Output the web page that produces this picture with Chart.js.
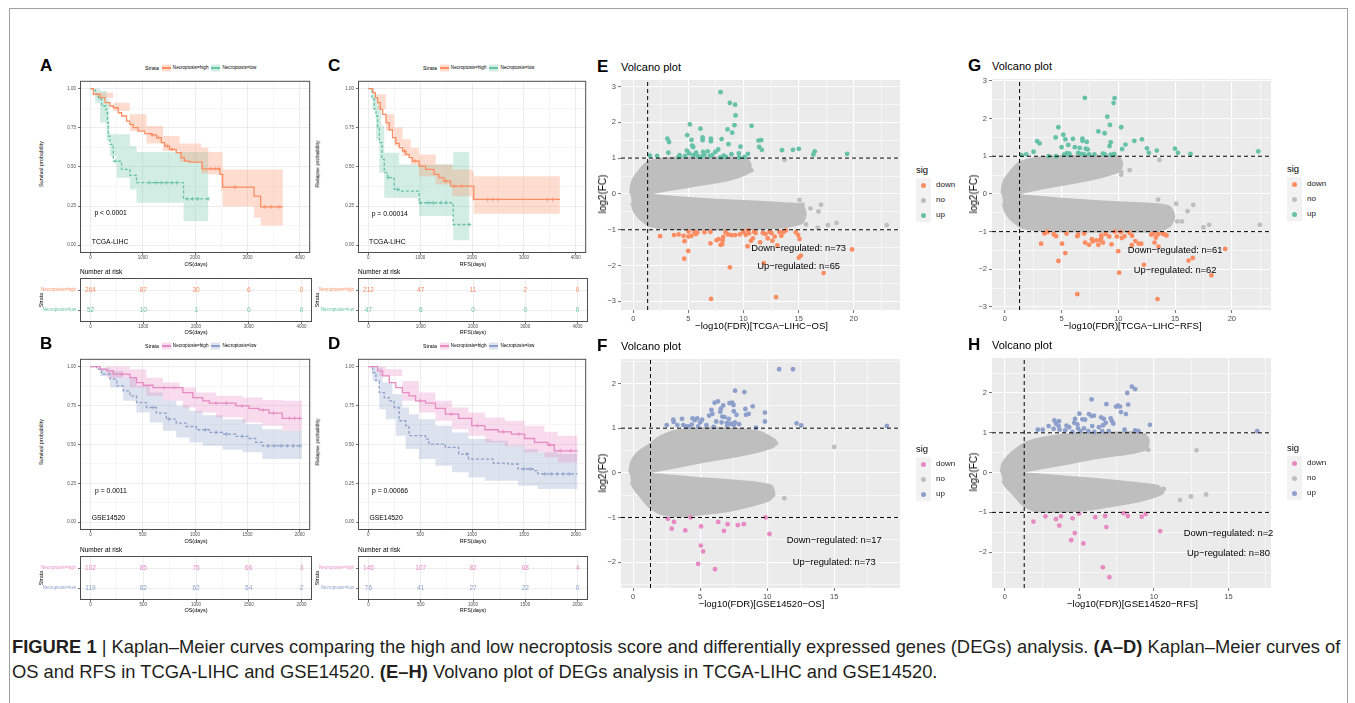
<!DOCTYPE html>
<html>
<head>
<meta charset="utf-8">
<script src="https://cdn.jsdelivr.net/npm/chart.js@4.4.1/dist/chart.umd.min.js"></script>
<style>
  body { margin: 0; width: 1355px; height: 703px; background: #fff; position: relative; overflow: hidden;
         font-family: "Liberation Sans", Arial, sans-serif; }
  .t { position: absolute; white-space: nowrap; line-height: 1; }
  canvas { position: absolute; }
  .frame { position: absolute; left: 9px; top: 8px; width: 1337px; height: 780px; border: 1px solid #a0a0a0; }
  .cap { position: absolute; left: 12px; white-space: nowrap; font-size: 19px; line-height: 1; color: #231f20; transform-origin: 0 50%; }
</style>
</head>
<body>
<div class="frame"></div>
<script>
// ---------- Kaplan-Meier data: [days, probability] ----------
const aHigh = [[0,1],[57,0.964],[184,0.942],[278,0.91],[373,0.889],[437,0.878],[532,0.846],[595,0.825],[690,0.793],[753,0.772],[817,0.751],[911,0.729],[1038,0.712],[1165,0.704],[1260,0.687],[1355,0.655],[1418,0.633],[1513,0.612],[1639,0.591],[1734,0.559],[1798,0.537],[1893,0.531],[2133,0.488],[2475,0.452],[2526,0.371],[3127,0.313],[3254,0.245],[3678,0.245]]
const aHighLo = [[0,1],[120,0.942],[437,0.857],[753,0.729],[1070,0.65],[1386,0.601],[1703,0.531],[2114,0.458],[2253,0.452],[2494,0.345],[2526,0.249],[3127,0.175],[3254,0.126],[3678,0.126]]
const aHighHi = [[0,1],[120,0.974],[437,0.91],[753,0.836],[1070,0.761],[1386,0.697],[1703,0.65],[2114,0.623],[2253,0.595],[2526,0.484],[3678,0.484]]
const aHighCens = [[1180,0.704],[1300,0.687],[1470,0.633],[1560,0.612],[2300,0.488],[2380,0.488],[2450,0.488],[2760,0.371],[3330,0.245],[3450,0.245],[3600,0.245]]
const aLow = [[0,1],[89,0.964],[152,0.932],[215,0.889],[297,0.846],[323,0.783],[342,0.697],[373,0.644],[437,0.537],[595,0.484],[753,0.446],[880,0.399],[1779,0.296],[2253,0.296]]
const aLowLo = [[0,1],[89,0.91],[184,0.783],[310,0.665],[373,0.569],[500,0.431],[753,0.356],[880,0.271],[1779,0.154],[2253,0.154]]
const aLowHi = [[0,1],[184,0.985],[310,0.932],[361,0.708],[753,0.633],[880,0.595],[2253,0.595]]
const aLowCens = [[480,0.537],[1130,0.399],[1250,0.399],[1350,0.399],[1450,0.399],[1550,0.399],[1650,0.399],[1850,0.296],[1950,0.296],[2050,0.296],[2250,0.296]]

const cHigh = [[0,1],[83,0.974],[134,0.942],[179,0.91],[230,0.868],[275,0.836],[339,0.783],[403,0.736],[466,0.687],[530,0.65],[594,0.623],[658,0.601],[722,0.58],[786,0.559],[850,0.537],[978,0.505],[1105,0.484],[1265,0.452],[1361,0.431],[1457,0.409],[1585,0.377],[2032,0.292],[3693,0.292]]
const cHighLo = [[0,1],[179,0.868],[339,0.729],[498,0.633],[658,0.569],[818,0.516],[978,0.441],[1297,0.388],[1617,0.313],[2000,0.281],[2032,0.2],[3693,0.2]]
const cHighHi = [[0,1],[179,0.964],[339,0.836],[498,0.751],[658,0.676],[818,0.623],[978,0.58],[1297,0.516],[1617,0.484],[2000,0.473],[2032,0.441],[3693,0.441]]
const cHighCens = [[700,0.601],[900,0.537],[1500,0.409],[1650,0.377],[1800,0.377],[2300,0.292],[2400,0.292],[2500,0.292],[3450,0.292],[3550,0.292]]
const cLow = [[0,1],[70,0.932],[115,0.868],[147,0.825],[179,0.751],[211,0.655],[262,0.548],[307,0.463],[371,0.431],[498,0.356],[594,0.345],[978,0.271],[1636,0.132],[1949,0.132]]
const cLowLo = [[0,1],[83,0.868],[147,0.676],[211,0.463],[307,0.303],[978,0.186],[1636,0.032],[1949,0.032]]
const cLowHi = [[0,1],[115,0.964],[179,0.889],[243,0.761],[307,0.591],[594,0.516],[1636,0.595],[1949,0.595]]
const cLowCens = [[380,0.431],[560,0.356],[1000,0.271],[1150,0.271],[1250,0.271],[1400,0.271],[1500,0.271],[1949,0.132]]

const bHigh = [[0,1],[92,0.983],[155,0.972],[218,0.951],[377,0.929],[440,0.897],[503,0.88],[598,0.865],[883,0.833],[978,0.801],[1073,0.78],[1136,0.765],[1389,0.748],[1516,0.731],[1611,0.722],[1706,0.701],[1833,0.667],[2022,0.667]]
const bHighLo = [[0,1],[155,0.929],[377,0.865],[535,0.812],[693,0.78],[883,0.737],[1010,0.705],[1200,0.673],[1453,0.641],[1643,0.62],[1833,0.588],[2022,0.566]]
const bHighHi = [[0,1],[377,0.983],[535,0.929],[693,0.897],[851,0.865],[1010,0.833],[1200,0.812],[1453,0.801],[1643,0.786],[1833,0.78],[2022,0.78]]
const bHighCens = [[300,0.951],[700,0.865],[800,0.865],[1200,0.765],[1300,0.765],[1450,0.748],[1650,0.722],[1750,0.701],[1900,0.667],[1950,0.667],[2000,0.667]]
const bLow = [[0,1],[60,0.983],[108,0.951],[187,0.919],[250,0.876],[313,0.844],[377,0.812],[440,0.769],[535,0.737],[630,0.701],[725,0.662],[820,0.637],[915,0.615],[1010,0.594],[1136,0.577],[1263,0.566],[1389,0.551],[1516,0.538],[1579,0.513],[1643,0.491],[2022,0.491]]
const bLowLo = [[0,1],[92,0.94],[187,0.865],[313,0.78],[440,0.705],[567,0.641],[693,0.588],[820,0.545],[946,0.513],[1073,0.491],[1263,0.466],[1453,0.449],[1643,0.406],[2022,0.395]]
const bLowHi = [[0,1],[92,0.994],[187,0.972],[313,0.929],[440,0.876],[567,0.833],[693,0.78],[820,0.748],[946,0.716],[1073,0.688],[1263,0.662],[1484,0.63],[1643,0.598],[1833,0.588],[2022,0.588]]
const bLowCens = [[600,0.737],[750,0.662],[1100,0.594],[1200,0.577],[1300,0.566],[1450,0.551],[1700,0.491],[1760,0.491],[1820,0.491],[1880,0.491],[1940,0.491],[2000,0.491]]

const dHigh = [[0,1],[89,0.972],[137,0.94],[201,0.897],[264,0.865],[328,0.833],[392,0.812],[455,0.78],[551,0.765],[647,0.731],[742,0.694],[870,0.667],[997,0.62],[1124,0.594],[1252,0.581],[1379,0.566],[1506,0.538],[1602,0.513],[1729,0.496],[1793,0.459],[2016,0.459]]
const dHighLo = [[0,1],[105,0.94],[328,0.78],[487,0.705],[647,0.652],[806,0.598],[965,0.556],[1124,0.513],[1315,0.487],[1506,0.449],[1698,0.417],[1825,0.385],[2016,0.374]]
const dHighHi = [[0,1],[169,0.983],[328,0.908],[487,0.833],[647,0.78],[806,0.737],[965,0.705],[1124,0.673],[1315,0.652],[1506,0.62],[1698,0.581],[1825,0.556],[2016,0.556]]
const dHighCens = [[500,0.78],[800,0.694],[1050,0.62],[1300,0.581],[1450,0.566],[1750,0.496],[1850,0.459],[1950,0.459]]
const dLow = [[0,1],[41,0.962],[73,0.908],[105,0.833],[153,0.801],[201,0.78],[248,0.737],[296,0.652],[360,0.62],[392,0.556],[551,0.534],[583,0.502],[742,0.481],[870,0.438],[965,0.406],[1204,0.38],[1347,0.374],[1443,0.342],[1602,0.331],[1634,0.31],[2016,0.31]]
const dLowLo = [[0,1],[41,0.908],[105,0.726],[169,0.662],[264,0.556],[360,0.47],[487,0.406],[647,0.363],[806,0.321],[965,0.288],[1124,0.267],[1443,0.235],[1634,0.214],[2016,0.203]]
const dLowHi = [[0,1],[73,0.994],[137,0.897],[232,0.823],[328,0.737],[392,0.694],[487,0.662],[647,0.62],[806,0.577],[965,0.534],[1188,0.524],[1347,0.491],[1506,0.47],[1634,0.449],[1825,0.438],[2016,0.438]]
const dLowCens = [[950,0.438],[1500,0.342],[1560,0.342],[1700,0.31],[1760,0.31],[1820,0.31],[1880,0.31],[1940,0.31]]

// number at risk
const riskTimesTcga = [0, 1000, 2000, 3000, 4000]
const riskTimesGse = [0, 500, 1000, 1500, 2000]
const riskAHigh = [264, 87, 30, 6, 0]
const riskALow = [52, 10, 1, 0, 0]
const riskCHigh = [212, 47, 11, 2, 0]
const riskCLow = [47, 6, 0, 0, 0]
const riskBHigh = [102, 85, 75, 66, 3]
const riskBLow = [119, 82, 62, 54, 2]
const riskDHigh = [145, 107, 82, 68, 4]
const riskDLow = [76, 41, 27, 22, 0]

const tcgaDayTicks = [0, 1000, 2000, 3000, 4000]
const tcgaDayMinor = [500, 1500, 2500, 3500]
const gseDayTicks = [0, 500, 1000, 1500, 2000]
const gseDayMinor = [250, 750, 1250, 1750]
const probTicks = [0, 0.25, 0.5, 0.75, 1]
const probMinor = [0.125, 0.375, 0.625, 0.875]

// ---------- Volcano data: [-log10(FDR), log2(FC)] ----------
const fdrCut = 1.3
const fcCut = 1

const eUp = [[7.92,2.84],[8.76,2.54],[9.24,2.49],[9.27,2.19],[9.18,1.92],[8.97,1.71],[8.55,1.8],[10.73,1.9],[5.13,1.94],[6.09,1.82],[4.89,1.64],[5.28,1.51],[6.29,1.58],[6.29,1.5],[7.04,1.54],[7.04,1.47],[8.01,1.53],[3.09,1.54],[3.24,1.45],[3.18,1.15],[5.34,1.35],[5.43,1.31],[8.64,1.39],[9.72,1.32],[11.36,1.49],[11.6,1.5],[11.42,1.31],[11.66,1.23],[13.49,1.22],[14.48,1.23],[15.02,1.26],[16.46,1.19],[16.34,1.1],[19.4,1.12],[1.5,1.07],[2.16,1.06],[4.2,1.08],[4.11,1.03],[4.86,1.21],[5.07,1.13],[5.46,1.08],[5.7,1.15],[5.9,1.05],[6.33,1.17],[6.45,1.09],[6.75,1.19],[6.96,1.06],[7.44,1.17],[7.7,1.24],[7.89,1.02],[8.2,1.07],[8.9,1.11],[9.57,1.13],[10.1,1.03],[10.4,1.12],[9.6,1.02],[7.17,1.09],[6.15,1.03],[4.7,1.06],[8.4,1.03]]
const eDown = [[2.43,-1.18],[3.69,-1.15],[4.11,-1.13],[4.56,-1.17],[5.0,-1.05],[4.65,-1.32],[5.0,-1.19],[4.98,-1.59],[4.62,-1.81],[5.55,-1.07],[5.67,-1.12],[5.81,-1.08],[6.45,-1.07],[7.0,-1.06],[7.0,-1.38],[7.56,-1.29],[7.74,-1.26],[7.92,-1.42],[8.07,-1.4],[8.1,-1.29],[8.16,-1.2],[8.37,-1.07],[8.6,-1.13],[8.9,-1.15],[9.24,-1.15],[9.66,-1.13],[9.96,-1.06],[10.2,-1.14],[10.4,-1.02],[10.5,-1.1],[10.68,-1.31],[10.85,-1.24],[10.97,-1.06],[11.1,-1.09],[10.37,-1.46],[11.5,-1.35],[11.75,-1.09],[12.0,-1.12],[12.35,-1.06],[12.54,-1.09],[12.62,-1.31],[12.83,-1.19],[13.07,-1.44],[13.25,-1.06],[13.43,-1.17],[13.6,-1.07],[13.85,-1.02],[14.75,-1.07],[14.96,-1.15],[15.08,-1.26],[15.2,-1.72],[15.02,-1.78],[11.84,-1.93],[8.76,-2.05],[17.27,-2.21],[19.85,-1.55],[7.05,-2.93],[12.95,-2.88],[12.2,-1.24],[5.28,-1.17]]
const eNo = [[13.73,0.95],[10.7,0.66],[23.0,-0.87],[18.44,-0.81],[17.66,-0.87],[16.73,-0.94],[17.03,-0.3],[16.8,-0.49],[16.07,-0.41],[15.68,-0.85],[15.08,-0.17],[15.35,-0.3]]
// outline of the dense grey "no" cloud (upper and lower lobes), traced round the edge
const eCloudUpX = [-0.25, -0.15, 0.1, 0.5, 1.0, 1.5, 2.5, 4, 6, 8, 10.2, 10.6, 10.5, 9.5, 8, 6, 4, 2.5, 1.5, 0.8]
const eCloudUpY = [0, 0.25, 0.45, 0.62, 0.8, 0.9, 0.97, 1.0, 1.0, 1.0, 0.99, 0.82, 0.62, 0.48, 0.36, 0.26, 0.16, 0.08, 0.03, 0]
const eCloudLoX = [-0.25, 0.8, 1.5, 3, 6, 9, 12, 14, 15.3, 15.6, 15.3, 14, 12, 9, 6, 3, 1.5, 1.0, 0.5, 0.1, -0.15]
const eCloudLoY = [0, -0.01, -0.04, -0.08, -0.15, -0.2, -0.24, -0.28, -0.32, -0.55, -0.8, -0.9, -0.95, -0.98, -0.98, -0.96, -0.88, -0.78, -0.65, -0.48, -0.25]

const gUp = [[7.05,2.55],[9.67,2.54],[9.58,2.41],[9.03,2.05],[9.26,1.83],[10.25,1.77],[8.24,1.66],[8.79,1.61],[4.72,1.77],[5.15,1.57],[4.48,1.5],[5.33,1.45],[6.0,1.46],[6.84,1.47],[6.84,1.41],[7.22,1.38],[9.33,1.37],[9.23,1.27],[10.63,1.31],[11.41,1.41],[12.08,1.45],[2.85,1.4],[3.06,1.34],[2.53,1.12],[5.59,1.3],[5.0,1.24],[6.17,1.24],[6.6,1.22],[7.13,1.2],[7.3,1.18],[10.33,1.19],[12.52,1.21],[12.69,1.09],[13.39,1.15],[14.99,1.2],[15.25,1.09],[16.36,1.06],[22.33,1.13],[1.46,1.03],[1.89,1.05],[3.87,1.0],[4.51,1.0],[5.21,1.04],[5.47,1.08],[5.68,1.07],[6.46,1.09],[6.78,1.06],[6.99,1.05],[7.42,1.05],[7.89,1.05],[8.65,1.07],[8.79,1.05],[9.32,1.04],[9.64,1.06],[5.68,1.03]]
const gDown = [[3.2,-1.32],[3.49,-1.05],[3.78,-1.01],[4.31,-1.07],[4.51,-1.12],[4.72,-1.78],[5.04,-1.32],[5.33,-1.57],[5.44,-1.05],[6.38,-1.12],[6.46,-1.08],[6.99,-1.05],[7.07,-1.29],[7.42,-1.35],[7.66,-1.2],[7.74,-1.26],[8.06,-1.23],[8.24,-1.35],[8.38,-1.23],[8.5,-1.1],[8.65,-1.29],[8.5,-1.17],[8.88,-1.06],[9.2,-1.13],[9.4,-1.34],[9.67,-1.0],[9.87,-1.13],[9.99,-1.52],[10.07,-2.09],[10.22,-1.01],[10.31,-1.17],[10.54,-1.12],[10.98,-1.03],[11.21,-1.11],[11.5,-1.25],[11.79,-1.32],[12.02,-1.32],[12.26,-1.88],[12.9,-1.08],[13.1,-1.05],[13.3,-1.16],[13.5,-1.07],[13.19,-1.29],[13.54,-1.4],[13.89,-1.05],[14.06,-1.07],[14.24,-1.1],[16.19,-1.77],[16.56,-1.7],[18.2,-2.16],[19.42,-1.46],[6.38,-2.66],[13.45,-2.79],[11.18,-1.36]]
const gNo = [[13.62,0.9],[10.25,0.58],[10.25,0.51],[11.0,0.63],[22.45,-0.82],[18.0,-0.82],[17.5,-0.89],[16.6,-0.29],[16.1,-0.46],[15.1,-0.26],[13.5,-0.15],[15.2,-0.73],[15.6,-0.73],[14.2,-0.75]]
const gCloudUpX = [-0.25, -0.15, 0.1, 0.5, 1.0, 1.5, 2.5, 4, 6, 8.5, 10.0, 10.3, 10.1, 9, 8, 6.5, 5, 3.5, 2, 0.8]
const gCloudUpY = [0, 0.25, 0.42, 0.58, 0.75, 0.85, 0.93, 0.98, 1.0, 1.0, 0.98, 0.8, 0.62, 0.5, 0.42, 0.33, 0.25, 0.17, 0.08, 0]
const gCloudLoX = [-0.25, 1, 3, 5, 7, 9, 11, 13, 14.5, 14.9, 14.5, 13.5, 11, 8, 5, 3, 1.5, 1.0, 0.5, 0.1, -0.15]
const gCloudLoY = [0, -0.04, -0.09, -0.14, -0.18, -0.22, -0.25, -0.28, -0.35, -0.6, -0.85, -0.97, -0.99, -0.99, -0.98, -0.96, -0.88, -0.78, -0.65, -0.48, -0.25]

const fUp = [[10.89,2.32],[11.92,2.32],[7.61,1.84],[8.3,1.81],[6.08,1.57],[6.33,1.6],[7.19,1.56],[7.39,1.57],[7.49,1.52],[6.72,1.51],[8.92,1.49],[9.83,1.35],[9.83,1.15],[8.37,1.43],[8.62,1.32],[8.42,1.3],[5.67,1.28],[5.84,1.41],[6.55,1.44],[6.5,1.37],[6.65,1.26],[6.82,1.25],[7.14,1.21],[7.51,1.38],[7.71,1.3],[3.0,1.19],[3.03,1.14],[3.65,1.21],[4.43,1.22],[4.6,1.18],[4.78,1.22],[5.15,1.19],[5.0,1.13],[6.2,1.15],[6.6,1.13],[7.0,1.12],[7.3,1.1],[7.59,1.13],[7.9,1.09],[2.51,1.07],[3.3,1.07],[3.74,1.07],[3.94,1.04],[4.14,1.04],[4.38,1.08],[4.85,1.04],[5.47,1.07],[6.01,1.03],[7.02,1.06],[7.51,1.07],[9.16,1.01],[12.19,1.11],[12.54,1.06],[18.92,1.05],[5.91,1.32]]
const fDown = [[2.59,-1.03],[2.88,-1.25],[3.05,-1.1],[3.89,-1.29],[4.29,-1.0],[5.07,-1.2],[5.05,-1.63],[5.22,-1.76],[4.85,-2.04],[6.11,-2.16],[6.35,-1.1],[6.77,-1.3],[7.05,-1.15],[7.81,-1.17],[8.25,-1.15],[9.88,-1.0],[10.17,-1.37]]
const fNo = [[15.0,0.58],[10.64,0.66],[11.28,-0.57],[10.17,-0.51],[9.04,-0.4]]
const fCloudUpX = [-0.25, -0.15, 0.1, 0.5, 1.2, 2, 3, 4.5, 6, 8, 9.5, 10.6, 10.5, 9.5, 8, 6.5, 5, 3.5, 2, 0.8]
const fCloudUpY = [0, 0.2, 0.35, 0.48, 0.62, 0.8, 0.92, 0.98, 1.0, 0.97, 0.9, 0.72, 0.6, 0.5, 0.4, 0.32, 0.24, 0.15, 0.07, 0]
const fCloudLoX = [-0.25, 1, 2, 3.5, 5, 7, 9, 10.3, 10.5, 10, 8.5, 7, 5, 3.5, 2, 1.2, 0.5, 0.1, -0.15]
const fCloudLoY = [0, -0.03, -0.05, -0.09, -0.13, -0.17, -0.22, -0.3, -0.5, -0.62, -0.75, -0.85, -0.92, -0.97, -0.9, -0.75, -0.5, -0.35, -0.2]

const hUp = [[8.52,2.16],[8.74,2.1],[8.21,2.0],[5.82,1.84],[6.81,1.72],[8.27,1.71],[7.46,1.66],[7.59,1.68],[7.72,1.66],[7.79,1.52],[8.12,1.47],[5.0,1.48],[5.64,1.47],[5.82,1.42],[5.97,1.43],[6.46,1.39],[6.64,1.35],[7.1,1.36],[7.19,1.29],[4.71,1.35],[5.2,1.34],[5.38,1.33],[3.32,1.31],[3.43,1.23],[3.63,1.29],[4.65,1.25],[4.87,1.21],[9.73,1.2],[6.59,1.19],[6.77,1.25],[7.28,1.23],[2.94,1.17],[3.61,1.17],[4.14,1.18],[4.31,1.14],[4.91,1.11],[5.31,1.11],[5.86,1.17],[6.31,1.14],[2.21,1.08],[2.54,1.08],[3.27,1.1],[3.67,1.08],[4.05,1.06],[4.54,1.02],[5.07,1.04],[5.6,1.04],[6.0,1.02],[6.53,1.04],[6.97,1.04],[8.03,1.08],[8.74,1.06],[8.96,1.04],[16.92,1.04]]
const hDown = [[1.92,-1.23],[2.72,-1.1],[3.43,-1.17],[3.65,-1.33],[3.76,-1.1],[4.54,-1.15],[4.69,-1.52],[4.45,-1.7],[5.27,-1.78],[4.98,-1.03],[6.06,-1.12],[6.73,-1.09],[6.81,-1.37],[6.57,-2.38],[7.01,-2.63],[7.96,-1.02],[8.25,-1.09],[9.18,-1.11],[9.45,-1.04],[10.42,-1.47]]
const hNo = [[12.85,0.56],[11.75,-0.69],[12.48,-0.6],[13.5,-0.55],[9.62,0.57],[9.36,0.94],[10.66,-0.41],[10.24,-0.49]]
const hCloudUpX = [-0.25, -0.15, 0.1, 0.5, 1.2, 2, 3.5, 5, 7, 9, 9.6, 9.5, 8.5, 7, 5.5, 4, 2.5, 1.2, 0.5]
const hCloudUpY = [0, 0.2, 0.35, 0.5, 0.7, 0.82, 0.92, 0.97, 0.99, 1.0, 0.85, 0.6, 0.5, 0.42, 0.33, 0.22, 0.12, 0.04, 0]
const hCloudLoX = [-0.25, 1, 2, 4, 6, 8, 9.5, 10.3, 10.6, 9.5, 8, 6, 4, 2, 1.2, 0.5, 0.1, -0.15]
const hCloudLoY = [0, -0.03, -0.05, -0.11, -0.17, -0.24, -0.3, -0.35, -0.5, -0.66, -0.78, -0.9, -0.97, -0.95, -0.8, -0.5, -0.35, -0.2]

const volcanoX20 = [0, 5, 10, 15, 20]
const volcanoX20Minor = [2.5, 7.5, 12.5, 17.5, 22.5]
const volcanoX15 = [0, 5, 10, 15]
const volcanoX15Minor = [2.5, 7.5, 12.5, 17.5]
const fc3 = [-3, -2, -1, 0, 1, 2, 3]
const fc3Minor = [-2.5, -1.5, -0.5, 0.5, 1.5, 2.5]
const fc2 = [-2, -1, 0, 1, 2]
const fc2Minor = [-2.5, -1.5, -0.5, 0.5, 1.5, 2.5]

// ---------- colours / helpers ----------
const FONT = '"Liberation Sans", Arial, sans-serif'
const ORANGE = '#FC8D62', GREEN = '#66C2A5', PINK = '#E78AC3', BLUE = '#8DA0CB', GREY = '#BEBEBE'
const alpha = (hex, a) => {
  const n = parseInt(hex.slice(1), 16)
  return `rgba(${n >> 16},${(n >> 8) & 255},${n & 255},${a})`
}
const pts = a => a.map(([x, y]) => ({ x, y }))
const outline = (xs, ys) => xs.map((x, i) => ({ x, y: ys[i] }))
const minus = v => (v < 0 ? '\u2212' : '') + Math.abs(v)

function txt(s, x, y, o = {}) {
  const d = document.createElement('div')
  d.className = 't'
  if (o.html) d.innerHTML = s; else d.textContent = s
  d.style.left = x + 'px'
  d.style.top = y + 'px'
  d.style.fontSize = (o.size || 8) + 'px'
  d.style.color = o.color || '#000'
  if (o.bold) d.style.fontWeight = 'bold'
  const ax = o.align === 'c' ? -50 : o.align === 'r' ? -100 : 0
  d.style.transform = `translate(${ax}%,-50%)` + (o.rot ? ` rotate(${o.rot}deg)` : '')
  document.body.appendChild(d)
  return d
}

function plotCanvas(area, m) {
  const c = document.createElement('canvas')
  const w = area.w + m.l + m.r, h = area.h + m.t + m.b
  c.width = w; c.height = h
  c.style.left = (area.x - m.l) + 'px'
  c.style.top = (area.y - m.t) + 'px'
  c.style.width = w + 'px'; c.style.height = h + 'px'
  document.body.appendChild(c)
  return c
}

const panelBg = {
  id: 'panelBg',
  beforeDraw(c, a, o) {
    if (!o.color) return
    const { ctx, chartArea: ca } = c
    ctx.save(); ctx.fillStyle = o.color
    ctx.fillRect(ca.left, ca.top, ca.width, ca.height); ctx.restore()
  }
}
const panelBorder = {
  id: 'panelBorder',
  afterDraw(c, a, o) {
    if (!o.color) return
    const { ctx, chartArea: ca } = c
    ctx.save(); ctx.strokeStyle = o.color; ctx.lineWidth = 1
    ctx.strokeRect(ca.left + 0.5, ca.top + 0.5, ca.width - 1, ca.height - 1); ctx.restore()
  }
}
const notes = {
  id: 'notes',
  afterDatasetsDraw(c, a, o) {
    if (!o.items) return
    const ctx = c.ctx
    ctx.save()
    o.items.forEach(n => {
      ctx.font = `${n.size}px ${FONT}`
      ctx.fillStyle = n.color || '#000'
      ctx.textAlign = n.align || 'left'
      ctx.textBaseline = 'middle'
      ctx.fillText(n.text, c.scales.x.getPixelForValue(n.x), c.scales.y.getPixelForValue(n.y))
    })
    ctx.restore()
  }
}
Chart.register(panelBg, panelBorder, notes)

function axis(min, max, majors, minors, fmt, o) {
  const all = majors.concat(minors).sort((a, b) => a - b)
  const isMajor = v => majors.some(m => Math.abs(m - v) < 1e-9)
  return {
    type: 'linear', min, max, bounds: 'data',
    afterBuildTicks: s => { s.ticks = all.map(v => ({ value: v })) },
    afterFit: o.fit,
    ticks: {
      autoSkip: false, maxRotation: 0, padding: o.pad,
      font: { family: FONT, size: o.size },
      color: o.tickColor || '#4D4D4D',
      callback: v => isMajor(v) ? fmt(v) : ''
    },
    grid: {
      color: o.grid,
      lineWidth: c => isMajor(c.tick.value) ? o.majorW : o.minorW,
      tickLength: o.tickLen || 3, tickWidth: 0.7,
      tickColor: c => isMajor(c.tick.value) ? '#333' : 'rgba(0,0,0,0)'
    },
    border: { display: false }
  }
}
const fitX = h => s => { s.height = h; s.paddingLeft = 0; s.paddingRight = 0 }
const fitY = w => s => { s.width = w; s.paddingTop = 0; s.paddingBottom = 0 }

const baseOptions = m => ({
  responsive: false, animation: false, devicePixelRatio: 1, events: [],
  layout: { padding: { left: 0, top: m.t, right: m.r, bottom: 0 } },
  plugins: { legend: { display: false }, tooltip: { enabled: false } }
})

// ---------- Kaplan-Meier panel ----------
function kmPanel(p) {
  const m = { l: 22, r: 3, t: 3, b: 9 }
  const cv = plotCanvas(p.area, m)
  const ds = []
  p.series.forEach(s => ds.push({ data: pts(s.cens), showLine: false, pointStyle: 'cross', pointRadius: 2,
    pointBorderColor: s.color, pointBorderWidth: 0.8 }))
  p.series.forEach(s => ds.push({ data: pts(s.curve), borderColor: s.color, borderWidth: 1.3,
    borderDash: s.dash || [], stepped: true, pointRadius: 0, fill: false }))
  p.series.forEach(s => {
    ds.push({ data: pts(s.lo), borderColor: 'rgba(0,0,0,0)', borderWidth: 0, stepped: true, pointRadius: 0, fill: false })
    ds.push({ data: pts(s.hi), borderColor: 'rgba(0,0,0,0)', borderWidth: 0, stepped: true, pointRadius: 0,
      fill: '-1', backgroundColor: alpha(s.color, 0.3) })
  })
  const opt = baseOptions(m)
  opt.plugins.panelBorder = { color: '#4d4d4d' }
  opt.plugins.notes = { items: p.notes.map(n => ({ text: n[0], x: n[1], y: n[2], size: 6.8 })) }
  const sty = { size: 4.5, grid: '#EBEBEB', majorW: 0.9, minorW: 0.45, pad: 0, tickLen: 2 }
  opt.scales = {
    x: axis(p.xr[0], p.xr[1], p.xMaj, p.xMin, v => String(v), { ...sty, fit: fitX(m.b) }),
    y: axis(-0.05, 1.05, probTicks, probMinor, v => v.toFixed(2), { ...sty, pad: 2, fit: fitY(m.l) })
  }
  new Chart(cv, { type: 'line', data: { datasets: ds }, options: opt })
}

function riskPanel(p) {
  const m = { l: 40, r: 3, t: 3, b: 8 }
  const cv = plotCanvas(p.area, m)
  const rowHigh = 2, rowLow = 1
  const ds = [
    { data: p.times.map(t => ({ x: t, y: rowHigh })), showLine: false, pointRadius: 0 },
    { data: p.times.map(t => ({ x: t, y: rowLow })), showLine: false, pointRadius: 0 }
  ]
  const items = []
  p.times.forEach((t, i) => {
    items.push({ text: String(p.high[i]), x: t, y: rowHigh, size: 6.5, color: p.colors[0], align: 'center' })
    items.push({ text: String(p.low[i]), x: t, y: rowLow, size: 6.5, color: p.colors[1], align: 'center' })
  })
  const opt = baseOptions(m)
  opt.plugins.panelBorder = { color: '#4d4d4d' }
  opt.plugins.notes = { items }
  const sty = { size: 4.5, grid: '#EBEBEB', majorW: 0.9, minorW: 0.45, pad: 0, tickLen: 2 }
  const yAxis = axis(0.4, 2.6, [rowLow, rowHigh], [], v => v === rowHigh ? 'Necroptosis=high' : 'Necroptosis=low',
    { ...sty, pad: 2, fit: fitY(m.l) })
  yAxis.ticks.color = c => c.tick.value === rowHigh ? p.colors[0] : p.colors[1]
  opt.scales = {
    x: axis(p.xr[0], p.xr[1], p.xMaj, p.xMin, v => String(v), { ...sty, fit: fitX(m.b) }),
    y: yAxis
  }
  new Chart(cv, { type: 'line', data: { datasets: ds }, options: opt })
}

function kmLegend(x, y, colors) {
  const d = document.createElement('div')
  d.className = 't'
  d.style.left = x + 'px'; d.style.top = y + 'px'; d.style.transform = 'translate(0,-50%)'
  d.style.fontSize = '4.6px'; d.style.display = 'flex'; d.style.alignItems = 'center'
  const key = c => `<span style="display:inline-block;width:9px;height:7px;margin:0 2px 0 3px;background:linear-gradient(to bottom,transparent 42%,${c} 42%,${c} 58%,transparent 58%),${alpha(c, 0.3)}"></span>`
  d.innerHTML = `<span style="font-size:5.2px">Strata</span>${key(colors[0])}<span>Necroptosis=high</span>${key(colors[1])}<span>Necroptosis=low</span>`
  document.body.appendChild(d)
}

// ---------- Volcano panel ----------
function volcano(p) {
  const m = { l: 16, r: 2, t: 2, b: 12 }
  const cv = plotCanvas(p.area, m)
  const dash = { borderColor: '#000', borderWidth: 1, borderDash: [4, 3], pointRadius: 0, fill: false }
  const dots = c => ({ showLine: false, pointRadius: 2.4, pointBackgroundColor: c, pointBorderWidth: 0 })
  const blob = { borderColor: GREY, borderWidth: 3, borderJoinStyle: 'round', tension: 0.2, pointRadius: 0,
    fill: 'shape', backgroundColor: GREY }
  const ds = [
    { ...dash, data: [{ x: fdrCut, y: p.yr[0] }, { x: fdrCut, y: p.yr[1] }] },
    { ...dash, data: [{ x: p.xr[0], y: fcCut }, { x: p.xr[1], y: fcCut }] },
    { ...dash, data: [{ x: p.xr[0], y: -fcCut }, { x: p.xr[1], y: -fcCut }] },
    { ...dots(p.cUp), data: pts(p.up) },
    { ...dots(p.cDown), data: pts(p.down) },
    { ...dots(GREY), data: pts(p.no) },
    { ...blob, data: outline(p.cloud[0], p.cloud[1]) },
    { ...blob, data: outline(p.cloud[2], p.cloud[3]) }
  ]
  const opt = baseOptions(m)
  opt.plugins.panelBg = { color: '#EBEBEB' }
  opt.plugins.notes = { items: p.notes.map(n => ({ text: n[0], x: n[1], y: n[2], size: 9.4, align: 'center' })) }
  const sty = { size: 7.5, grid: '#FFFFFF', majorW: 1.1, minorW: 0.55, pad: 1 }
  opt.scales = {
    x: axis(p.xr[0], p.xr[1], p.xMaj, p.xMin, minus, { ...sty, fit: fitX(m.b) }),
    y: axis(p.yr[0], p.yr[1], p.yMaj, p.yMin, minus, { ...sty, pad: 2, fit: fitY(m.l) })
  }
  new Chart(cv, { type: 'line', data: { datasets: ds }, options: opt })
}

function sigLegend(x, y, cDown, cUp) {
  txt('sig', x, y, { size: 9.5 })
  const box = document.createElement('div')
  box.style.cssText = `position:absolute;left:${x}px;top:${y + 8}px;width:15px;height:44px;background:#F2F2F2`
  document.body.appendChild(box)
  ;[['down', cDown], ['no', GREY], ['up', cUp]].forEach(([lab, c], i) => {
    const cy = y + 15 + i * 15
    const dot = document.createElement('div')
    dot.style.cssText = `position:absolute;left:${x + 5}px;top:${cy - 2.5}px;width:5px;height:5px;border-radius:50%;background:${c}`
    document.body.appendChild(dot)
    txt(lab, x + 20, cy, { size: 8, color: '#1a1a1a' })
  })
}

// ---------- build panels ----------
const kmPanels = [
  { letter: 'A', area: { x: 80, y: 79, w: 232, h: 174 }, risk: { x: 80, y: 278, w: 232, h: 44 }, xr: [-200, 4200],
    xMaj: tcgaDayTicks, xMin: tcgaDayMinor, times: riskTimesTcga, ylab: 'Survival probability', xlab: 'OS(days)',
    colors: [ORANGE, GREEN], series: [[aHigh, aHighLo, aHighHi, aHighCens], [aLow, aLowLo, aLowHi, aLowCens]],
    notes: [['p < 0.0001', 76, 0.203], ['TCGA-LIHC', 25, 0.02]], high: riskAHigh, low: riskALow },
  { letter: 'C', area: { x: 358, y: 79, w: 230, h: 174 }, risk: { x: 358, y: 278, w: 230, h: 44 }, xr: [-200, 4200],
    xMaj: tcgaDayTicks, xMin: tcgaDayMinor, times: riskTimesTcga, ylab: 'Relapse probability', xlab: 'RFS(days)',
    colors: [ORANGE, GREEN], series: [[cHigh, cHighLo, cHighHi, cHighCens], [cLow, cLowLo, cLowHi, cLowCens]],
    notes: [['p = 0.00014', 64, 0.2], ['TCGA-LIHC', 13, 0.02]], high: riskCHigh, low: riskCLow },
  { letter: 'B', area: { x: 80, y: 357, w: 232, h: 173 }, risk: { x: 80, y: 556, w: 232, h: 44 }, xr: [-100, 2100],
    xMaj: gseDayTicks, xMin: gseDayMinor, times: riskTimesGse, ylab: 'Survival probability', xlab: 'OS(days)',
    colors: [PINK, BLUE], series: [[bHigh, bHighLo, bHighHi, bHighCens], [bLow, bLowLo, bLowHi, bLowCens]],
    notes: [['p = 0.0011', 44, 0.199], ['GSE14520', 13, 0.026]], high: riskBHigh, low: riskBLow },
  { letter: 'D', area: { x: 358, y: 357, w: 230, h: 173 }, risk: { x: 358, y: 556, w: 230, h: 44 }, xr: [-100, 2100],
    xMaj: gseDayTicks, xMin: gseDayMinor, times: riskTimesGse, ylab: 'Relapse probability', xlab: 'RFS(days)',
    colors: [PINK, BLUE], series: [[dHigh, dHighLo, dHighHi, dHighCens], [dLow, dLowLo, dLowHi, dLowCens]],
    notes: [['p = 0.00066', 35, 0.199], ['GSE14520', 10, 0.026]], high: riskDHigh, low: riskDLow }
]

kmPanels.forEach(k => {
  const a = k.area, r = k.risk
  kmPanel({ area: a, xr: k.xr, xMaj: k.xMaj, xMin: k.xMin, notes: k.notes,
    series: k.series.map((s, i) => ({ curve: s[0], lo: s[1], hi: s[2], cens: s[3], color: k.colors[i], dash: i ? [3, 2] : [] })) })
  riskPanel({ area: r, xr: k.xr, xMaj: k.xMaj, xMin: k.xMin, times: k.times, high: k.high, low: k.low, colors: k.colors })
  const left = a.x === 80 ? 40 : 328
  const yl = a.x === 80 ? 42 : 318
  txt(k.letter, left, a.y - 14, { size: 17, bold: true })
  kmLegend(a.x + 65, a.y - 11, k.colors)
  txt(k.ylab, yl, a.y + a.h / 2 - 2, { size: 5.5, align: 'c', rot: -90 })
  txt(k.xlab, a.x + a.w / 2, a.y + a.h + 11.5, { size: 5.5, align: 'c' })
  txt('Number at risk', a.x, r.y - 6, { size: 6.5 })
  txt('Strata', yl, r.y + r.h / 2, { size: 5.5, align: 'c', rot: -90 })
  txt(k.xlab, a.x + a.w / 2, r.y + r.h + 11, { size: 5.5, align: 'c' })
})

const volcanoPanels = [
  { letter: 'E', area: { x: 621, y: 78, w: 281, h: 232 }, xr: [-1.12, 24.2], yr: [-3.24, 3.18],
    xMaj: volcanoX20, xMin: volcanoX20Minor, yMaj: fc3, yMin: fc3Minor, up: eUp, down: eDown, no: eNo,
    cloud: [eCloudUpX, eCloudUpY, eCloudLoX, eCloudLoY], cUp: GREEN, cDown: ORANGE,
    notes: [['Down\u2212regulated: n=73', 15, -1.52], ['Up\u2212regulated: n=65', 15, -2.02]],
    xlab: '\u2212log10(FDR)[TCGA\u2212LIHC\u2212OS]' },
  { letter: 'G', area: { x: 992, y: 77, w: 281, h: 233 }, xr: [-1.13, 23.45], yr: [-3.08, 3.05],
    xMaj: volcanoX20, xMin: volcanoX20Minor, yMaj: fc3, yMin: fc3Minor, up: gUp, down: gDown, no: gNo,
    cloud: [gCloudUpX, gCloudUpY, gCloudLoX, gCloudLoY], cUp: GREEN, cDown: ORANGE,
    notes: [['Down\u2212regulated: n=61', 15, -1.51], ['Up\u2212regulated: n=62', 15, -2.02]],
    xlab: '\u2212log10(FDR)[TCGA\u2212LIHC\u2212RFS]' },
  { letter: 'F', area: { x: 621, y: 357, w: 281, h: 231 }, xr: [-0.9, 19.9], yr: [-2.58, 2.55],
    xMaj: volcanoX15, xMin: volcanoX15Minor, yMaj: fc2, yMin: fc2Minor, up: fUp, down: fDown, no: fNo,
    cloud: [fCloudUpX, fCloudUpY, fCloudLoX, fCloudLoY], cUp: BLUE, cDown: PINK,
    notes: [['Down\u2212regulated: n=17', 15, -1.51], ['Up\u2212regulated: n=73', 15, -2.01]],
    xlab: '\u2212log10(FDR)[GSE14520\u2212OS]' },
  { letter: 'H', area: { x: 992, y: 356, w: 281, h: 232 }, xr: [-0.86, 17.85], yr: [-2.9, 2.88],
    xMaj: volcanoX15, xMin: volcanoX15Minor, yMaj: fc2, yMin: fc2Minor, up: hUp, down: hDown, no: hNo,
    cloud: [hCloudUpX, hCloudUpY, hCloudLoX, hCloudLoY], cUp: BLUE, cDown: PINK,
    notes: [['Down\u2212regulated: n=2', 15, -1.52], ['Up\u2212regulated: n=80', 15, -2.02]],
    xlab: '\u2212log10(FDR)[GSE14520\u2212RFS]' }
]

volcanoPanels.forEach(v => {
  volcano(v)
  const a = v.area
  txt(v.letter, a.x - 24, a.y - 12, { size: 17, bold: true })
  txt('Volcano plot', a.x, a.y - 11, { size: 11 })
  txt('log2(FC)', a.x - 18, a.y + a.h / 2, { size: 10, align: 'c', rot: -90 })
  txt(v.xlab, a.x + a.w / 2, a.y + a.h + 16, { size: 9.5, align: 'c' })
  sigLegend(a.x + a.w + 14, a.y + 92, v.cDown, v.cUp)
})

// ---------- caption ----------
const cap1 = document.createElement('div')
cap1.className = 'cap'
cap1.style.top = '637px'
cap1.innerHTML = '<b>FIGURE 1</b> | Kaplan\u2013Meier curves comparing the high and low necroptosis score and differentially expressed genes (DEGs) analysis. <b>(A\u2013D)</b> Kaplan\u2013Meier curves of'
document.body.appendChild(cap1)
const cap2 = document.createElement('div')
cap2.className = 'cap'
cap2.style.top = '662px'
cap2.innerHTML = 'OS and RFS in TCGA-LIHC and GSE14520. <b>(E\u2013H)</b> Volvano plot of DEGs analysis in TCGA-LIHC and GSE14520.'
document.body.appendChild(cap2)
const sx = 1328 / cap1.offsetWidth
cap1.style.transform = `scaleX(${sx})`
cap2.style.transform = `scaleX(${sx})`
</script>
</body>
</html>
